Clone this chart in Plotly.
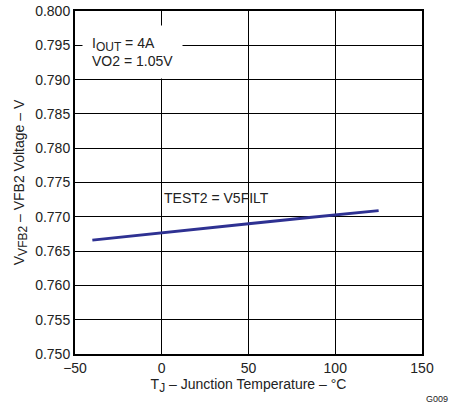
import plotly.graph_objects as go

temps = [-40, 0, 25, 50, 85, 100, 125]
vfb2 = [0.7666, 0.7677, 0.7684, 0.7690, 0.7699, 0.7703, 0.7709]

x_ticks = [-50, 0, 50, 100, 150]
y_ticks = [0.750, 0.755, 0.760, 0.765, 0.770, 0.775, 0.780, 0.785, 0.790, 0.795, 0.800]

FONT = "Liberation Sans, Arial, sans-serif"

fig = go.Figure()
fig.add_trace(go.Scatter(x=temps, y=vfb2, mode="lines",
                         line=dict(color="#2e3192", width=3), showlegend=False,
                         hoverinfo="skip"))

fig.update_layout(
    width=451, height=407,
    margin=dict(l=75, r=29, t=11, b=53),
    paper_bgcolor="white", plot_bgcolor="white",
    font=dict(family=FONT, size=14, color="#222222"),
    xaxis=dict(range=[-50, 150], tickvals=x_ticks, showgrid=True, gridcolor="black", gridwidth=1,
               zeroline=False, showline=True, linecolor="black", linewidth=2, mirror=True,
               ticks="", ticklen=0, automargin=False, ticklabeloverflow="allow",
               title=dict(text="T<sub><span style='font-size:12px'>J</span></sub> – Junction Temperature – °C",
                          standoff=3, font=dict(size=14))),
    yaxis=dict(range=[0.750, 0.800], tickvals=y_ticks, tickformat=".3f", showgrid=True,
               gridcolor="black", gridwidth=1, zeroline=False, showline=True, linecolor="black",
               linewidth=2, mirror=True, ticks="", ticklen=0, automargin=False,
               ticklabeloverflow="allow",
               title=dict(text="V<sub><span style='font-size:12px'>VFB2</span></sub> – VFB2 Voltage – V",
                          standoff=7, font=dict(size=14))),
)

fig.add_annotation(xref="paper", yref="paper", x=(82 - 75) / 347, y=(354 - 25) / 343,
                   xanchor="left", yanchor="top", align="left", showarrow=False,
                   text="I<sub><span style='font-size:12px'>OUT</span></sub> = 4A<br>VO2 = 1.05V",
                   bgcolor="white", borderpad=9, font=dict(size=14))
fig.add_annotation(x=0, y=0.7727, xanchor="left", yanchor="middle", showarrow=False,
                   text="TEST2 = V5FILT", font=dict(size=14))
fig.add_annotation(xref="paper", yref="paper", x=(450 - 75) / 347, y=(354 - 406) / 343,
                   xanchor="right", yanchor="bottom", showarrow=False,
                   text="G009", font=dict(size=9))

fig.write_html("out.html", config={"displayModeBar": False},
               post_script="document.body.style.margin='0';")
